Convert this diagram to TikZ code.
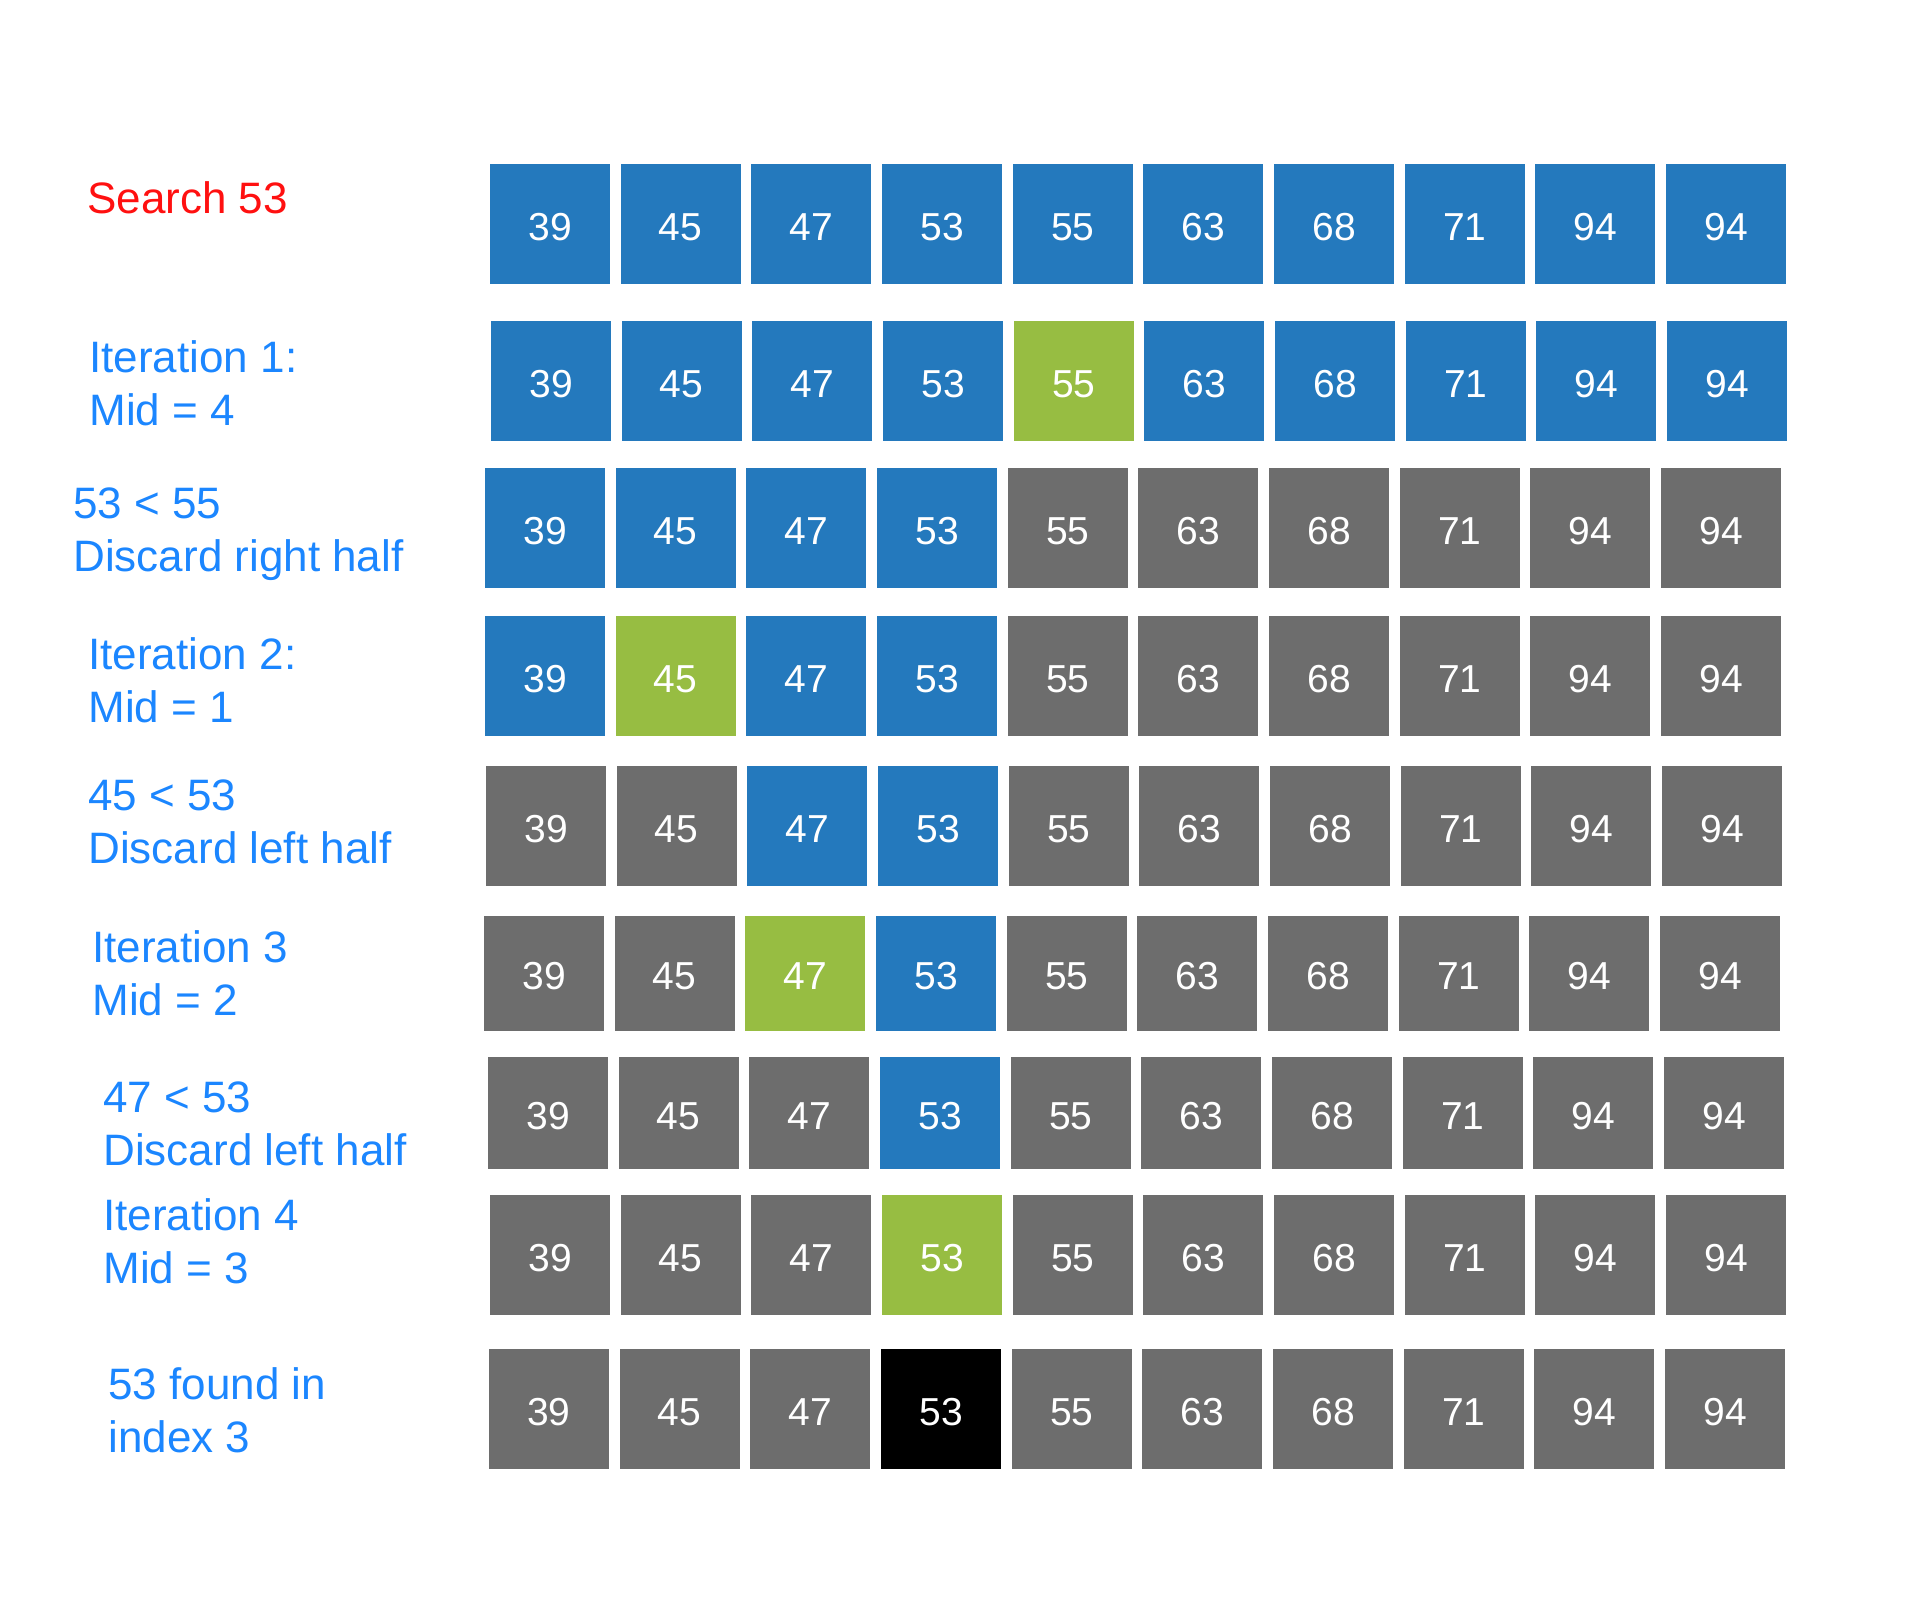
\documentclass[tikz,border=0pt]{standalone}
\usepackage{fontspec}
\setmainfont{Liberation Sans}
\definecolor{cellB}{HTML}{2479BD}
\definecolor{cellG}{HTML}{97BD42}
\definecolor{cellK}{HTML}{6D6D6D}
\definecolor{cellD}{HTML}{000000}
\definecolor{noteblue}{HTML}{1B86FF}
\definecolor{searchred}{HTML}{FF1010}

\begin{document}
\begin{tikzpicture}[x=0.5pt,y=-0.5pt,
    cell/.style={anchor=north west,minimum width=60pt,inner sep=0pt,outer sep=0pt,text height=16pt,text depth=0pt,text=white,font=\fontsize{19.5}{22}\selectfont},
    note/.style={anchor=base west,align=left,inner sep=0pt,text=noteblue,font=\fontsize{22}{26.5}\selectfont}]
    \useasboundingbox (0,0) rectangle (1906,1619);
    \foreach \r/\x/\y/\h/\cols in {
        0/490/164/120/{B,B,B,B,B,B,B,B,B,B},
        1/491/321/120/{B,B,B,B,G,B,B,B,B,B},
        2/485/468/120/{B,B,B,B,K,K,K,K,K,K},
        3/485/616/120/{B,G,B,B,K,K,K,K,K,K},
        4/486/766/120/{K,K,B,B,K,K,K,K,K,K},
        5/484/916/115/{K,K,G,B,K,K,K,K,K,K},
        6/488/1057/112/{K,K,K,B,K,K,K,K,K,K},
        7/490/1195/120/{K,K,K,G,K,K,K,K,K,K},
        8/489/1349/120/{K,K,K,D,K,K,K,K,K,K}}
    {
        \foreach \c [count=\i from 0] in \cols {
            \pgfmathtruncatemacro\v{{39,45,47,53,55,63,68,71,94,94}[\i]}
            \node[cell,fill=cell\c,minimum height={\h*0.5pt}] (r\r c\i) at (\x+\i*130.67,\y) {\v};
        }
    }
    \node[note,text=searchred] (search) at (87,213) {Search 53};
    \node[note] (iter1) at (89,425) {Iteration 1:\\Mid = 4};
    \node[note] (cmp1) at (73,571) {53 < 55\\Discard right half};
    \node[note] (iter2) at (88,722) {Iteration 2:\\Mid = 1};
    \node[note] (cmp2) at (88,863) {45 < 53\\Discard left half};
    \node[note] (iter3) at (92,1015) {Iteration 3\\Mid = 2};
    \node[note] (cmp3) at (103,1165) {47 < 53\\Discard left half};
    \node[note] (iter4) at (103,1283) {Iteration 4\\Mid = 3};
    \node[note] (found) at (108,1452) {53 found in\\index 3};
\end{tikzpicture}
\end{document}
